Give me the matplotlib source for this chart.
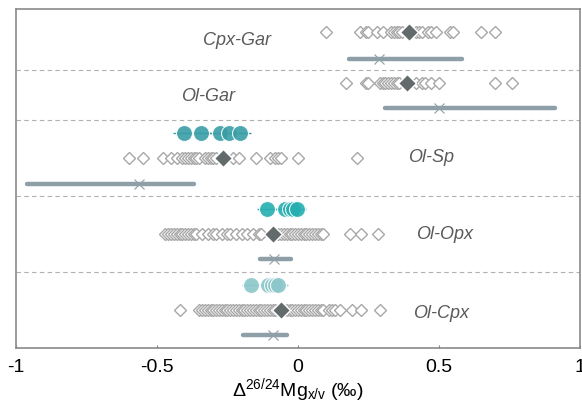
import matplotlib
matplotlib.use("Agg")
import matplotlib.pyplot as plt

plt.rcParams['font.family'] = ['Liberation Sans', 'DejaVu Sans']
plt.rcParams['mathtext.fontset'] = 'custom'
plt.rcParams['mathtext.rm'] = 'Liberation Sans'
plt.rcParams['mathtext.it'] = 'Liberation Sans:italic'
plt.rcParams['mathtext.bf'] = 'Liberation Sans:bold'

# ---------------- data ----------------
group_names = ["Cpx-Gar", "Ol-Gar", "Ol-Sp", "Ol-Opx", "Ol-Cpx"]

# individual (open diamond) values
cpxgar_vals = [0.10, 0.22, 0.24, 0.25, 0.28, 0.30, 0.33, 0.34, 0.35, 0.36, 0.37,
               0.42, 0.43, 0.44, 0.46, 0.47, 0.49, 0.54, 0.55, 0.65, 0.70]
olgar_vals = [0.17, 0.24, 0.25, 0.29, 0.30, 0.31, 0.32, 0.33, 0.34, 0.35, 0.36,
              0.42, 0.44, 0.45, 0.47, 0.50, 0.70, 0.76]
olsp_vals = [-0.60, -0.55, -0.48, -0.45, -0.43, -0.41, -0.40, -0.39, -0.38, -0.37,
             -0.36, -0.35, -0.33, -0.32, -0.31, -0.30, -0.29, -0.23, -0.21, -0.15,
             -0.10, -0.08, -0.07, -0.06, 0.00, 0.21]
olopx_vals = [-0.47, -0.46, -0.45, -0.44, -0.43, -0.42, -0.41, -0.40, -0.39, -0.38,
              -0.37, -0.36, -0.34, -0.32, -0.30, -0.29, -0.27, -0.25, -0.24, -0.22,
              -0.20, -0.18, -0.16, -0.14, -0.13, -0.07, -0.06, -0.05, -0.04, -0.03,
              -0.02, -0.01, 0.00, 0.01, 0.02, 0.03, 0.04, 0.05, 0.06, 0.07, 0.08,
              0.09, 0.185, 0.225, 0.285]
olcpx_vals = [-0.42, -0.35, -0.34, -0.33, -0.32, -0.31, -0.30, -0.29, -0.28, -0.27,
              -0.26, -0.25, -0.24, -0.23, -0.22, -0.21, -0.20, -0.19, -0.18, -0.17,
              -0.16, -0.15, -0.14, -0.13, -0.12, -0.11, -0.10, -0.09, -0.08, -0.07,
              -0.06, -0.05, -0.04, -0.03, -0.02, -0.01, 0.00, 0.01, 0.02, 0.03,
              0.04, 0.05, 0.06, 0.07, 0.08, 0.09, 0.11, 0.12, 0.13, 0.15, 0.19,
              0.225, 0.29]

# means (filled diamonds)
diamond_means = [0.395, 0.385, -0.265, -0.087, -0.06]

# range bars (low, high) and centre cross
bar_low = [0.18, 0.31, -0.96, -0.135, -0.195]
bar_high = [0.58, 0.91, -0.37, -0.025, -0.04]
bar_cross = [0.287, 0.50, -0.565, -0.085, -0.09]

# measured (circle) values
olsp_circ = [-0.405, -0.345, -0.275, -0.245, -0.205]
olopx_circ = [-0.11, -0.045, -0.03, -0.018, -0.005]
olcpx_circ = [-0.165, -0.105, -0.093, -0.082, -0.07]
circ_err = [0.04, 0.035, 0.035]

xticks = [-1, -0.5, 0, 0.5, 1]
xtick_labels = ["-1", "-0.5", "0", "0.5", "1"]

# ---------------- layout (rows) ----------------
diamond_rows = [0, 2, 5, 8, 11]
bar_rows = [1.05, 3, 6, 9, 12]
circle_rows = [4, 7, 10]
separators = [1.5, 3.5, 6.5, 9.5]
label_pos = [(-0.216, 0.32), (-0.32, 2.57), (0.473, 4.95), (0.52, 8.0), (0.509, 11.15)]
circle_colors = ["#3a9ea6", "#26aeb0", "#8cc7ca"]

fig = plt.figure(figsize=(5.82, 4.05), dpi=100)
ax = fig.add_axes([0.0275, 0.1407, 0.969, 0.8370])

for s in separators:
    ax.axhline(s, color="#b0b0b0", lw=0.8, ls=(0, (4, 3)), zorder=1)

all_vals = [cpxgar_vals, olgar_vals, olsp_vals, olopx_vals, olcpx_vals]
for vals, row, mean in zip(all_vals, diamond_rows, diamond_means):
    ax.plot(vals, [row] * len(vals), ls="none", marker="D", ms=6.3,
            mfc="white", mec="#a8a8a8", mew=1.0, zorder=3)
    ax.plot([mean], [row], ls="none", marker="D", ms=9.5, mfc="#636a6c",
            mec="white", mew=1.0, zorder=5)

for lo, hi, cx, row in zip(bar_low, bar_high, bar_cross, bar_rows):
    ax.plot([lo, hi], [row, row], color="#8e9fa8", lw=3.2, solid_capstyle="round", zorder=3)
    ax.plot([cx], [row], ls="none", marker="x", ms=7, mec="#8e9fa8", mew=0.8, zorder=4)

for circ, row, col, err in zip([olsp_circ, olopx_circ, olcpx_circ], circle_rows,
                               circle_colors, circ_err):
    ax.errorbar(circ, [row] * len(circ), xerr=err, fmt="none", ecolor=col,
                elinewidth=1.0, ls=(0, (4, 2)), capsize=0, zorder=3)
    ax.plot(circ, [row] * len(circ), ls="none", marker="o", ms=11.5, mfc=col,
            mec="white", mew=0.8, alpha=0.9, zorder=4)

for name, (lx, ly) in zip(group_names, label_pos):
    ax.text(lx, ly, name, fontsize=13, style="italic", color="#5a5a5a",
            ha="center", va="center", zorder=6)

ax.set_xlim(-1, 1)
ax.set_ylim(12.51, -0.91)
ax.set_yticks([])
ax.set_xticks(xticks)
ax.set_xticklabels(xtick_labels)
ax.tick_params(axis="x", direction="in", length=2, width=0.8, color="#808080",
               labelsize=14, pad=8)
for sp in ax.spines.values():
    sp.set_color("#8a8a8a")
    sp.set_linewidth(1.2)
ax.set_xlabel(r"$\Delta^{\mathrm{26/24}}\mathrm{Mg}_{\mathrm{x/v}}$ (‰)", fontsize=14, labelpad=0)

fig.savefig("out.png", dpi=100)
